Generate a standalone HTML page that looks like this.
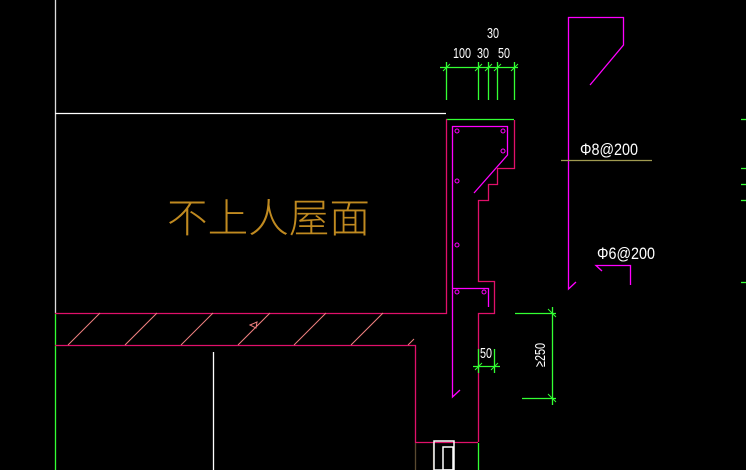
<!DOCTYPE html>
<html><head><style>html,body{margin:0;background:#000;overflow:hidden}</style></head><body>
<svg width="746" height="470" xmlns="http://www.w3.org/2000/svg" style="display:block">
<rect width="746" height="470" fill="#000"/>
<g fill="none" stroke-width="1.3">
<line x1="55.5" y1="0" x2="55.5" y2="313" stroke="#ddd"/>
<line x1="55.5" y1="313" x2="55.5" y2="470" stroke="#3f3"/>
<line x1="55" y1="113.5" x2="446" y2="113.5" stroke="#fff"/>
<line x1="446" y1="119.5" x2="514" y2="119.5" stroke="#3f3"/>
<polyline stroke="#e0106a" points="55,313.5 446.5,313.5 446.5,119"/>
<polyline stroke="#e0106a" points="514.5,120 514.5,168.5 497.5,168.5 497.5,184.5 488.5,184.5 488.5,200.5 478.5,200.5 478.5,281.5 494.5,281.5 494.5,313.5 478.5,313.5 478.5,442"/>
<polyline stroke="#e0106a" points="55,345.5 415.5,345.5 415.5,442.5 478,442.5"/>
<line x1="415.5" y1="443" x2="415.5" y2="470" stroke="#5a4a30"/>
<line x1="433.5" y1="443" x2="433.5" y2="470" stroke="#5a4a30"/>
<line x1="478.5" y1="443" x2="478.5" y2="470" stroke="#3f3"/>
<g stroke="#f08080" stroke-width="1">
<line x1="68" y1="345" x2="100" y2="313"/><line x1="125" y1="345" x2="157" y2="313"/>
<line x1="181" y1="345" x2="213" y2="313"/><line x1="238" y1="345" x2="270" y2="313"/>
<line x1="294" y1="345" x2="326" y2="313"/><line x1="351" y1="345" x2="383" y2="313"/>
<line x1="408" y1="345" x2="414" y2="339"/>
<polygon points="250,325 257,322 256,328"/>
</g>
<line x1="213.5" y1="352" x2="213.5" y2="470" stroke="#fff"/>
<g stroke="#f0f" >
<polyline points="460,390 452.5,397 452.5,126.5 507.5,126.5 507.5,155 474,193"/>
<polyline points="452,288.5 488.5,288.5 488.5,307"/>
<polyline points="590,85 623.5,45 623.5,17.5 568.5,17.5 568.5,289 576,282"/>
<polyline points="602,271 596,265.5 630.5,265.5 630.5,285"/>
<g stroke-width="1"><circle cx="457" cy="131" r="2"/><circle cx="503" cy="131" r="2"/><circle cx="503" cy="151" r="2"/><circle cx="457" cy="181" r="2"/><circle cx="457" cy="245" r="2"/><circle cx="457" cy="292" r="2"/><circle cx="484" cy="292" r="2"/></g>
</g>
<line x1="561" y1="160.5" x2="652" y2="160.5" stroke="#a09a50"/>
<g stroke="#3f3">
<line x1="440" y1="67.5" x2="518" y2="67.5"/>
<line x1="446.5" y1="62" x2="446.5" y2="100"/><line x1="478.5" y1="62" x2="478.5" y2="100"/>
<line x1="488.5" y1="62" x2="488.5" y2="100"/><line x1="497.5" y1="62" x2="497.5" y2="100"/>
<line x1="514.5" y1="62" x2="514.5" y2="100"/>
<line x1="473" y1="366.5" x2="500" y2="366.5"/>
<line x1="478.5" y1="349" x2="478.5" y2="373"/><line x1="494.5" y1="349" x2="494.5" y2="373"/>
<line x1="552.5" y1="307" x2="552.5" y2="405"/>
<line x1="515" y1="313.5" x2="556" y2="313.5"/><line x1="522" y1="398.5" x2="556" y2="398.5"/>
<line x1="741" y1="119.5" x2="746" y2="119.5"/><line x1="741" y1="168.5" x2="746" y2="168.5"/>
<line x1="741" y1="184.5" x2="746" y2="184.5"/><line x1="741" y1="200.5" x2="746" y2="200.5"/>
<line x1="741" y1="282.5" x2="746" y2="282.5"/>
<g stroke-width="1">
<line x1="443" y1="71" x2="450" y2="64"/><line x1="475" y1="71" x2="482" y2="64"/>
<line x1="485" y1="71" x2="492" y2="64"/><line x1="494" y1="71" x2="501" y2="64"/>
<line x1="511" y1="71" x2="518" y2="64"/>
<line x1="475" y1="370" x2="482" y2="363"/><line x1="491" y1="370" x2="498" y2="363"/>
<line x1="548" y1="309" x2="556" y2="317"/><line x1="548" y1="394" x2="556" y2="402"/>
</g>
</g>
<rect x="434" y="441" width="20" height="29" stroke="#fff" stroke-width="1.5"/>
<rect x="443" y="447" width="10" height="23" stroke="#fff" stroke-width="1.5"/>
</g>
<g fill="#fff" font-family="Liberation Sans Narrow, Liberation Sans, sans-serif" font-size="15">
<text x="453" y="58" textLength="18" lengthAdjust="spacingAndGlyphs">100</text>
<text x="477" y="58" textLength="12" lengthAdjust="spacingAndGlyphs">30</text>
<text x="498" y="58" textLength="12" lengthAdjust="spacingAndGlyphs">50</text>
<text x="487" y="38" textLength="12" lengthAdjust="spacingAndGlyphs">30</text>
<text x="480" y="358" textLength="12" lengthAdjust="spacingAndGlyphs">50</text>
<text transform="translate(545,367) rotate(-90)" textLength="24" lengthAdjust="spacingAndGlyphs">≥250</text>
<text x="580" y="155" font-size="17" textLength="58" lengthAdjust="spacingAndGlyphs">Φ8@200</text>
<text x="597" y="259" font-size="17" textLength="58" lengthAdjust="spacingAndGlyphs">Φ6@200</text>
</g>
<text x="167" y="232" fill="#c08a20" font-family="Liberation Sans, 'Noto Sans CJK SC', sans-serif" font-size="40" font-weight="200" textLength="203" lengthAdjust="spacingAndGlyphs">不上人屋面</text>
</svg>
</body></html>
